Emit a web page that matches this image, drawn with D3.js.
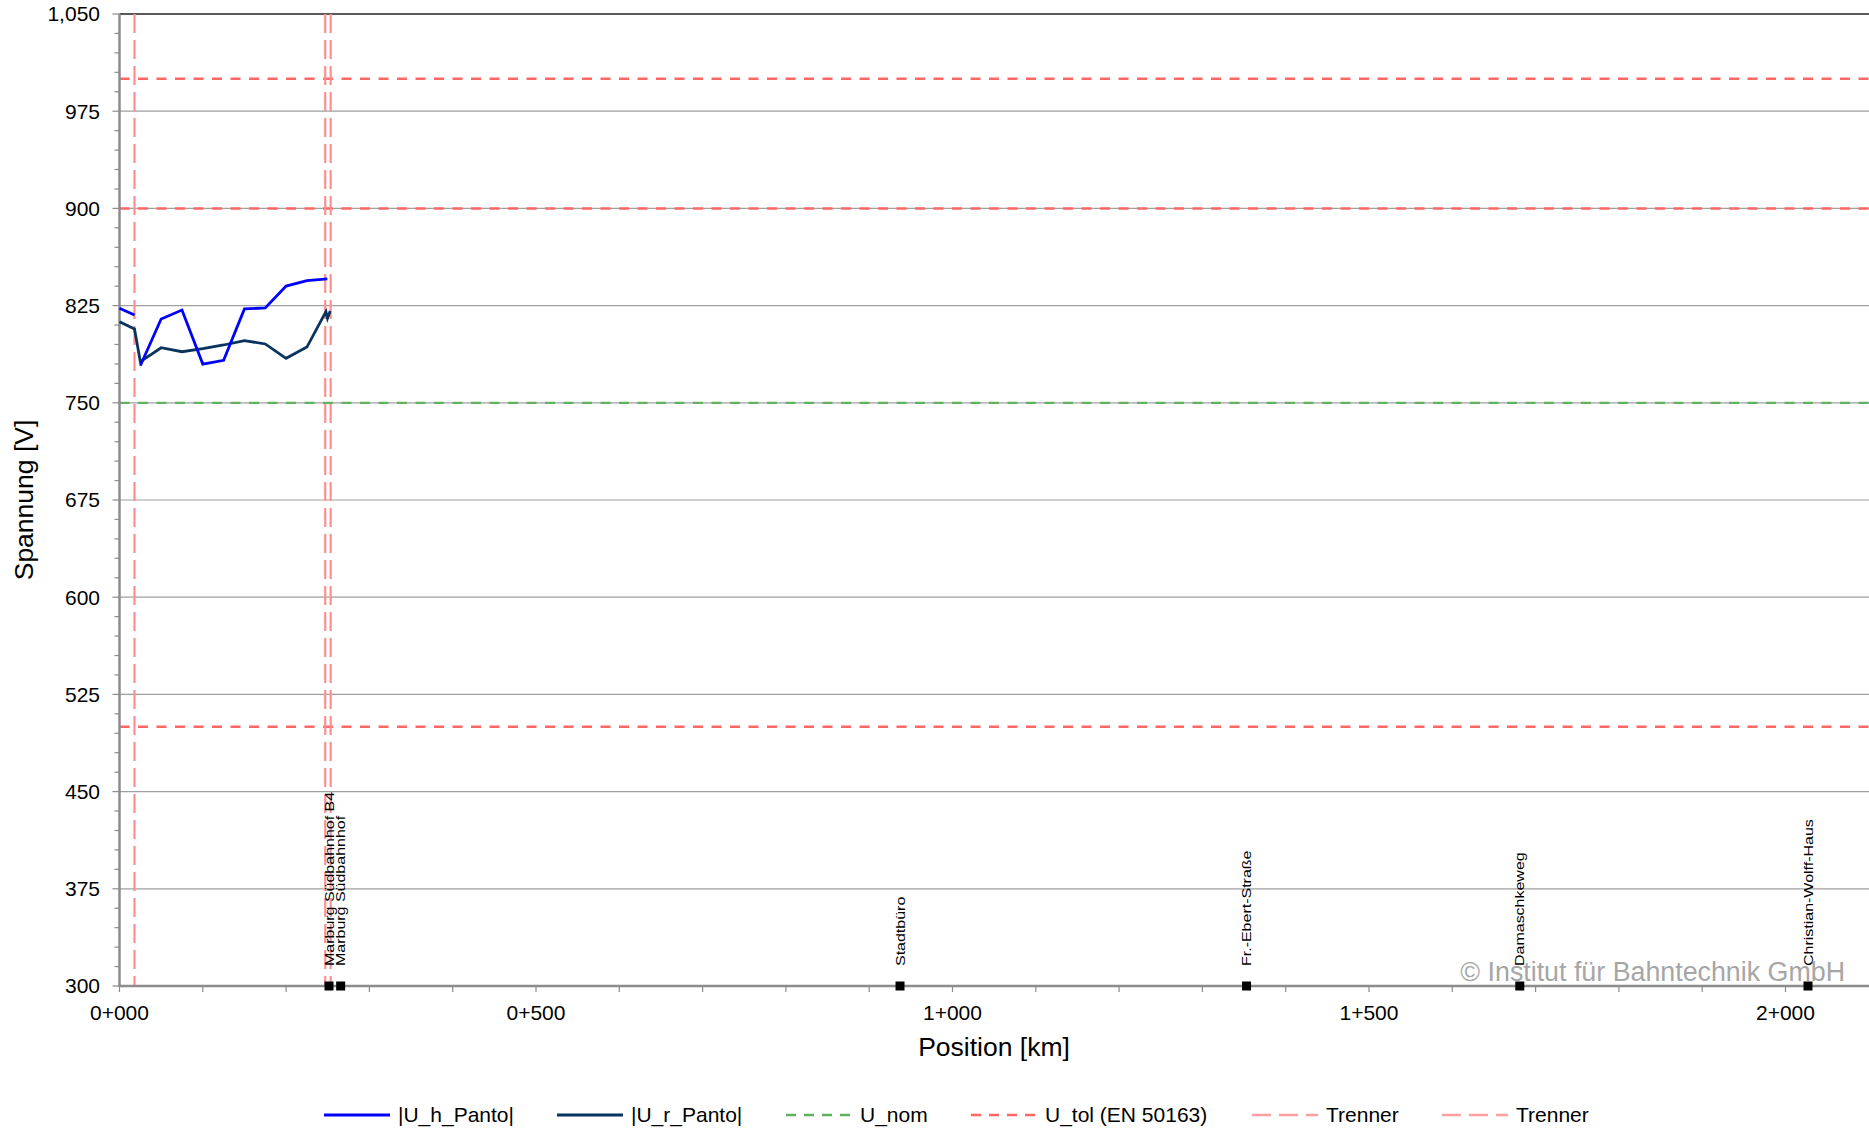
<!DOCTYPE html>
<html>
<head>
<meta charset="utf-8">
<script src="https://cdn.jsdelivr.net/npm/d3@7"></script>
<style>
  html, body { margin: 0; padding: 0; background: #fff; }
  svg { display: block; font-family: "Liberation Sans", Arial, sans-serif; }
</style>
</head>
<body>
<svg id="chart" width="1869" height="1130"></svg>
<script>
// ---------- data ----------
const uhPos = [0.000, 0.018, 0.020, 0.025, 0.050, 0.075, 0.100, 0.125, 0.150, 0.175, 0.200, 0.225, 0.2495];
const uhVal = [822.9, 817.7, null, 778.6, 814.7, 821.6, 779.9, 782.8, 822.4, 823.2, 840.1, 844.2, 845.7];

const urPos = [0.000, 0.018, 0.025, 0.050, 0.075, 0.100, 0.125, 0.150, 0.175, 0.200, 0.225, 0.2478, 0.2497, 0.2530];
const urVal = [812.6, 806.9, 781.7, 792.5, 789.4, 791.8, 794.6, 797.9, 795.4, 784.3, 793.0, 820.3, 815.2, 820.8];

const uNom = [750];
const uTol = [1000, 900, 500];
const trennerA = [0.018, 0.247];
const trennerB = [0.2535];

const stationNames = ["Marburg Südbahnhof B4", "Marburg Südbahnhof", "Stadtbüro", "Fr.-Ebert-Straße", "Damaschkeweg", "Christian-Wolff-Haus"];
const stationPos = [0.2515, 0.2655, 0.937, 1.353, 1.681, 2.027];

const yTicks = [300, 375, 450, 525, 600, 675, 750, 825, 900, 975, 1050];
const xTicks = [0, 0.5, 1.0, 1.5, 2.0];

const legendLabels = ["|U_h_Panto|", "|U_r_Panto|", "U_nom", "U_tol (EN 50163)", "Trenner", "Trenner"];

// ---------- layout ----------
const svg = d3.select("#chart");
const L = 119.5, T = 14, B = 986, R = 1869;
const x = d3.scaleLinear().domain([0, 2.1]).range([L, L + 2.1 * 833]);
const y = d3.scaleLinear().domain([300, 1050]).range([B, T]);

const colBlue = "#0000ff", colNavy = "#08335e", colNom = "#5fb35f", colTol = "#ff6666", colTren = "#ff8f8f";

// gridlines
svg.append("g").selectAll("line")
  .data(yTicks.filter(v => v > 300 && v < 1050))
  .join("line")
  .attr("x1", L).attr("x2", R)
  .attr("y1", d => y(d)).attr("y2", d => y(d))
  .attr("stroke", "#a0a0a0").attr("stroke-width", 1.2);

// top border
svg.append("line").attr("x1", L).attr("x2", R).attr("y1", y(1050)).attr("y2", y(1050))
  .attr("stroke", "#595959").attr("stroke-width", 2.2);

// y minor ticks
const yMinor = d3.range(300, 1051, 15);
svg.append("g").selectAll("line").data(yMinor).join("line")
  .attr("x1", d => yTicks.includes(d) ? L - 7 : L - 5).attr("x2", L)
  .attr("y1", d => y(d)).attr("y2", d => y(d))
  .attr("stroke", "#8c8c8c").attr("stroke-width", 1.2);

// x minor ticks
const xMinor = d3.range(0, 21).map(i => i / 10);
svg.append("g").selectAll("line").data(xMinor).join("line")
  .attr("x1", d => x(d)).attr("x2", d => x(d))
  .attr("y1", B).attr("y2", B + 6)
  .attr("stroke", "#8c8c8c").attr("stroke-width", 1.2);

// y axis labels
svg.append("g").selectAll("text").data(yTicks).join("text")
  .attr("x", 100).attr("y", d => y(d)).attr("dy", "0.35em")
  .attr("text-anchor", "end").attr("font-size", 21).attr("fill", "#000")
  .text(d => d3.format(",")(d));

// x axis labels
const fmtKm = d => {
  const m = Math.round(d * 1000);
  return Math.floor(m / 1000) + "+" + String(m % 1000).padStart(3, "0");
};
svg.append("g").selectAll("text").data(xTicks).join("text")
  .attr("x", d => x(d)).attr("y", 1020)
  .attr("text-anchor", "middle").attr("font-size", 21).attr("fill", "#000")
  .text(fmtKm);

// tolerance lines
svg.append("g").selectAll("line").data(uTol).join("line")
  .attr("x1", L).attr("x2", R).attr("y1", d => y(d)).attr("y2", d => y(d))
  .attr("stroke", colTol).attr("stroke-width", 2.5).attr("stroke-dasharray", "10,8.5");

svg.append("g").selectAll("line").data(uNom).join("line")
  .attr("x1", L).attr("x2", R).attr("y1", d => y(d)).attr("y2", d => y(d))
  .attr("stroke", colNom).attr("stroke-width", 2.2).attr("stroke-dasharray", "10,8.5");

// Trenner vertical lines
svg.append("g").selectAll("line").data(trennerA.concat(trennerB)).join("line")
  .attr("x1", d => x(d)).attr("x2", d => x(d)).attr("y1", T).attr("y2", B)
  .attr("stroke", colTren).attr("stroke-width", 2.2).attr("stroke-dasharray", "19,7");

// axes lines
svg.append("line").attr("x1", L).attr("x2", L).attr("y1", T).attr("y2", B + 1)
  .attr("stroke", "#8c8c8c").attr("stroke-width", 2.5);
svg.append("line").attr("x1", L).attr("x2", R).attr("y1", B).attr("y2", B)
  .attr("stroke", "#8c8c8c").attr("stroke-width", 2.5);

// data lines
const uhData = uhPos.map((p, i) => ({p, v: uhVal[i]}));
const urData = urPos.map((p, i) => ({p, v: urVal[i]}));
const line = d3.line().defined(d => d.v != null).x(d => x(d.p)).y(d => y(d.v));
svg.append("path").datum(urData).attr("d", line)
  .attr("fill", "none").attr("stroke", colNavy).attr("stroke-width", 2.8).attr("stroke-linejoin", "miter");
svg.append("path").datum(uhData).attr("d", line)
  .attr("fill", "none").attr("stroke", colBlue).attr("stroke-width", 2.8).attr("stroke-linejoin", "miter");

// stations
const st = svg.append("g").selectAll("g").data(stationNames.map((n, i) => ({n, p: stationPos[i]}))).join("g");
st.append("rect")
  .attr("x", d => x(d.p) - 4.5).attr("y", B - 4.5).attr("width", 9).attr("height", 9)
  .attr("fill", "#000");
st.append("text")
  .attr("transform", d => `translate(${x(d.p)},${B - 20}) rotate(-90) scale(1.23,1)`)
  .attr("dy", "0.35em").attr("font-size", 13).attr("fill", "#000")
  .text(d => d.n);

// watermark
svg.append("text").attr("x", 1845).attr("y", 981).attr("text-anchor", "end")
  .attr("font-size", 26.8).attr("fill", "#a6a6a6")
  .text("© Institut für Bahntechnik GmbH");

// axis titles
svg.append("text").attr("x", 994).attr("y", 1056).attr("text-anchor", "middle")
  .attr("font-size", 26.5).attr("fill", "#000").text("Position [km]");
svg.append("text").attr("transform", "translate(33,500) rotate(-90)").attr("text-anchor", "middle")
  .attr("font-size", 26.5).attr("fill", "#000").text("Spannung [V]");

// legend
const legX = [324, 557, 786, 971, 1252, 1442];
const legStyles = [
  {c: colBlue, w: 3, dash: null},
  {c: colNavy, w: 3, dash: null},
  {c: colNom, w: 2.5, dash: "10,8"},
  {c: colTol, w: 2.5, dash: "10,8"},
  {c: "#ffa0a0", w: 2.5, dash: "19,8"},
  {c: "#ffa0a0", w: 2.5, dash: "19,8"}
];
const legY = 1115;
const lg = svg.append("g").selectAll("g").data(legendLabels.map((t, i) => ({t, i}))).join("g");
lg.append("line")
  .attr("x1", d => legX[d.i]).attr("x2", d => legX[d.i] + 66)
  .attr("y1", legY).attr("y2", legY)
  .attr("stroke", d => legStyles[d.i].c).attr("stroke-width", d => legStyles[d.i].w)
  .attr("stroke-dasharray", d => legStyles[d.i].dash);
lg.append("text")
  .attr("x", d => legX[d.i] + 74).attr("y", legY).attr("dy", "0.35em")
  .attr("font-size", 21).attr("fill", "#000")
  .text(d => d.t);
</script>
</body>
</html>
